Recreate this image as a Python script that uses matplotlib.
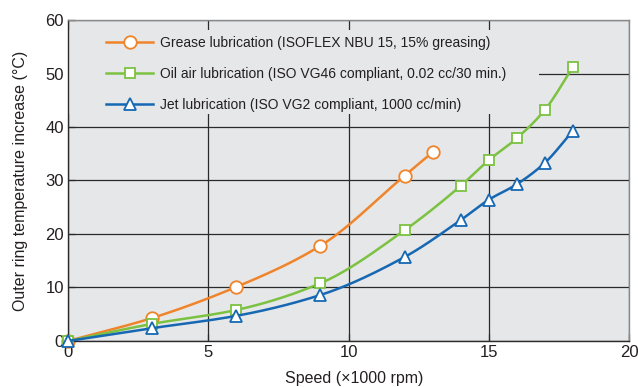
import numpy as np
import matplotlib
matplotlib.use("Agg")
import matplotlib.pyplot as plt
from matplotlib.patches import Rectangle

plt.rcParams['font.family'] = ['Liberation Sans', 'DejaVu Sans']
plt.rcParams['text.color'] = '#231f20'
plt.rcParams['axes.labelcolor'] = '#231f20'
plt.rcParams['xtick.labelcolor'] = '#231f20'
plt.rcParams['ytick.labelcolor'] = '#231f20'

grease_x = [0, 3, 6, 9, 12, 13]
grease_y = [0, 4.3, 10.1, 17.8, 30.9, 35.3]
oil_x = [0, 3, 6, 9, 12, 14, 15, 16, 17, 18]
oil_y = [0, 3.2, 5.8, 10.8, 20.7, 29.0, 33.8, 37.9, 43.2, 51.2]
jet_x = [0, 3, 6, 9, 12, 14, 15, 16, 17, 18]
jet_y = [0, 2.4, 4.7, 8.6, 15.7, 22.6, 26.4, 29.3, 33.3, 39.3]

labels = ["Grease lubrication (ISOFLEX NBU 15, 15% greasing)",
          "Oil air lubrication (ISO VG46 compliant, 0.02 cc/30 min.)",
          "Jet lubrication (ISO VG2 compliant, 1000 cc/min)"]
colors = ["#f0842a", "#7cc242", "#1668b3"]
markers = ["o", "s", "^"]
msizes = [9, 7.5, 9]

xticks = [0, 5, 10, 15, 20]
yticks = [0, 10, 20, 30, 40, 50, 60]


def pchip(x, y, n=30):
    x = np.asarray(x, float); y = np.asarray(y, float)
    h = np.diff(x); d = np.diff(y) / h
    m = np.zeros_like(y)
    for k in range(1, len(x) - 1):
        if d[k - 1] * d[k] > 0:
            w1 = 2 * h[k] + h[k - 1]; w2 = h[k] + 2 * h[k - 1]
            m[k] = (w1 + w2) / (w1 / d[k - 1] + w2 / d[k])
    m[0] = d[0]; m[-1] = d[-1]
    xs, ys = [], []
    for k in range(len(x) - 1):
        t = np.linspace(0, 1, n)
        h00 = 2*t**3 - 3*t**2 + 1; h10 = t**3 - 2*t**2 + t
        h01 = -2*t**3 + 3*t**2; h11 = t**3 - t**2
        xs.append(x[k] + t * h[k])
        ys.append(h00*y[k] + h10*h[k]*m[k] + h01*y[k+1] + h11*h[k]*m[k+1])
    return np.concatenate(xs), np.concatenate(ys)


fig = plt.figure(figsize=(6.38, 3.87), dpi=100)
ax = fig.add_axes([0.1066, 0.1189, 0.8793, 0.8294])
ax.set_facecolor("#e6e7e8")
ax.set_xlim(0, 20)
ax.set_ylim(0, 60)
ax.set_xticks(xticks)
ax.set_yticks(yticks)
ax.grid(True, color="#2a2a2a", linewidth=0.9, zorder=1)
ax.set_axisbelow(True)
ax.tick_params(direction="in", length=5, width=0.9, color="#2a2a2a",
               labelsize=12, pad=3)
for s in ["left", "bottom"]:
    ax.spines[s].set_color("#2a2a2a"); ax.spines[s].set_linewidth(1.0)
for s in ["top", "right"]:
    ax.spines[s].set_color("#8a8a8a"); ax.spines[s].set_linewidth(1.0)

# legend background block covering grid lines
ax.add_patch(Rectangle((0.0, 0.707), 0.84, 0.262, transform=ax.transAxes,
                       facecolor="#e6e7e8", edgecolor="none", zorder=1.5))

series = [(grease_x, grease_y), (oil_x, oil_y), (jet_x, jet_y)]
handles = []
for i, (xs, ys) in enumerate(series):
    sx, sy = pchip(xs, ys)
    ax.plot(sx, sy, color=colors[i], lw=1.8, zorder=2 + i, clip_on=False)
    ax.plot(xs, ys, linestyle="none", marker=markers[i], markersize=msizes[i],
            markerfacecolor="white", markeredgecolor=colors[i],
            markeredgewidth=1.3, zorder=2.5 + i, clip_on=False)
    h, = ax.plot([], [], color=colors[i], lw=1.8, marker=markers[i],
                 markersize=msizes[i], markerfacecolor="white",
                 markeredgecolor=colors[i], markeredgewidth=1.3)
    handles.append(h)

ax.legend(handles, labels, loc="upper left", bbox_to_anchor=(0.068, 0.950),
          frameon=False, fontsize=10.0, handlelength=3.4, handletextpad=0.45,
          labelspacing=1.22, borderpad=0, borderaxespad=0)

ax.set_xlabel("Speed (\u00d71000 rpm)", fontsize=11.5)
ax.set_ylabel("Outer ring temperature increase (\u00b0C)", fontsize=11.5)
ax.xaxis.set_label_coords(0.51, -0.093)
ax.yaxis.set_label_coords(-0.072, 0.5)

fig.savefig("out.png", dpi=100)
